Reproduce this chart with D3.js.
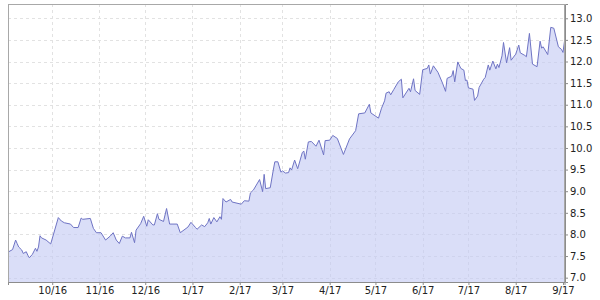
<!DOCTYPE html>
<html>
<head>
<meta charset="utf-8">
<script src="https://cdn.jsdelivr.net/npm/d3@7"></script>
<style>
  html, body { margin: 0; padding: 0; background: #fff; }
  svg { display: block; }
  text { font-family: "DejaVu Sans", Verdana, sans-serif; font-size: 10px; fill: #222; }
</style>
</head>
<body>
<svg id="chart" width="600" height="300"></svg>
<script>
const dates = [
"2016-09-02","2016-09-05","2016-09-07","2016-09-08","2016-09-09","2016-09-11","2016-09-12","2016-09-14","2016-09-15","2016-09-16",
"2016-09-18","2016-09-20","2016-09-21","2016-09-22","2016-09-23","2016-09-24","2016-09-27","2016-09-30","2016-10-05","2016-10-07",
"2016-10-09","2016-10-13","2016-10-15","2016-10-18","2016-10-20","2016-10-21","2016-10-26","2016-10-28","2016-10-30","2016-11-02",
"2016-11-05","2016-11-08","2016-11-10","2016-11-12","2016-11-14","2016-11-16","2016-11-18","2016-11-21","2016-11-22","2016-11-24",
"2016-11-25","2016-11-28","2016-11-30","2016-12-02","2016-12-03","2016-12-06","2016-12-07","2016-12-09","2016-12-10","2016-12-13",
"2016-12-15","2016-12-17","2016-12-22","2016-12-24","2016-12-29","2016-12-31","2017-01-03","2017-01-04","2017-01-07","2017-01-09",
"2017-01-11","2017-01-12","2017-01-13","2017-01-15","2017-01-17","2017-01-19","2017-01-20","2017-01-21","2017-01-23","2017-01-26",
"2017-01-27","2017-02-02","2017-02-04","2017-02-07","2017-02-08","2017-02-10","2017-02-14","2017-02-16","2017-02-17","2017-02-18",
"2017-02-21","2017-02-23","2017-02-24","2017-02-26","2017-02-28","2017-03-01","2017-03-03","2017-03-05","2017-03-06","2017-03-07",
"2017-03-09","2017-03-11","2017-03-14","2017-03-15","2017-03-16","2017-03-18","2017-03-20","2017-03-23","2017-03-25","2017-03-28",
"2017-03-29","2017-04-01","2017-04-03","2017-04-06","2017-04-10","2017-04-14","2017-04-18","2017-04-20","2017-04-24","2017-04-27",
"2017-04-28","2017-05-03","2017-05-05","2017-05-07","2017-05-08","2017-05-10","2017-05-11","2017-05-13","2017-05-16","2017-05-18",
"2017-05-19","2017-05-23","2017-05-24","2017-05-26","2017-05-27","2017-05-30","2017-06-01","2017-06-04","2017-06-05","2017-06-06",
"2017-06-08","2017-06-11","2017-06-14","2017-06-16","2017-06-17","2017-06-20","2017-06-21","2017-06-22","2017-06-24","2017-06-26",
"2017-06-28","2017-06-29","2017-06-30","2017-07-01","2017-07-04","2017-07-05","2017-07-07","2017-07-08","2017-07-11","2017-07-12",
"2017-07-14","2017-07-15","2017-07-17","2017-07-19","2017-07-20","2017-07-21","2017-07-23","2017-07-24","2017-07-26","2017-07-28",
"2017-07-29","2017-08-01","2017-08-03","2017-08-04","2017-08-07","2017-08-08","2017-08-10","2017-08-12","2017-08-15","2017-08-17",
"2017-08-18","2017-08-19","2017-08-22","2017-08-24","2017-08-26","2017-08-29","2017-08-31","2017-09-01","2017-09-02"
];
const values = [
7.59, 7.65, 7.87, 7.79, 7.71, 7.64, 7.56, 7.60, 7.52, 7.46,
7.54, 7.68, 7.61, 7.71, 7.97, 7.92, 7.87, 7.78, 8.39, 8.31,
8.27, 8.24, 8.16, 8.16, 8.38, 8.35, 8.37, 8.14, 8.04, 8.04,
7.87, 7.96, 8.04, 7.87, 7.79, 7.96, 7.92, 7.92, 8.05, 7.81,
8.10, 8.25, 8.42, 8.19, 8.34, 8.22, 8.22, 8.48, 8.35, 8.30,
8.60, 8.24, 8.24, 8.04, 8.17, 8.28, 8.16, 8.12, 8.22, 8.18,
8.27, 8.37, 8.24, 8.39, 8.29, 8.41, 8.35, 8.83, 8.75, 8.81,
8.75, 8.70, 8.78, 8.77, 8.96, 9.03, 9.27, 8.99, 9.39, 9.06,
9.08, 9.49, 9.68, 9.68, 9.44, 9.47, 9.42, 9.43, 9.54, 9.49,
9.72, 9.52, 9.89, 9.93, 9.74, 10.14, 10.15, 10.04, 10.18, 9.84,
10.17, 10.18, 10.29, 10.22, 9.85, 10.21, 10.40, 10.79, 10.81, 11.01,
10.81, 10.69, 10.92, 11.09, 11.27, 11.30, 11.23, 11.35, 11.53, 11.59,
11.16, 11.38, 11.30, 11.60, 11.33, 11.24, 11.81, 11.84, 11.92, 11.71,
11.90, 11.75, 11.50, 11.31, 11.61, 11.66, 11.79, 11.53, 11.99, 11.84,
11.80, 11.56, 11.57, 11.39, 11.36, 11.10, 11.20, 11.40, 11.59, 11.63,
11.92, 11.80, 12.01, 11.83, 11.94, 11.86, 12.13, 12.44, 11.97, 12.32,
12.03, 12.17, 12.38, 12.20, 12.14, 12.11, 12.65, 11.94, 11.88, 12.47,
12.31, 12.34, 12.16, 12.79, 12.77, 12.34, 12.28, 12.21, 12.47
];
const monthTicks = ["2016-10-01","2016-11-01","2016-12-01","2017-01-01","2017-02-01","2017-03-01",
                    "2017-04-01","2017-05-01","2017-06-01","2017-07-01","2017-08-01","2017-09-01"];
const monthLabels = ["10/16","11/16","12/16","1/17","2/17","3/17","4/17","5/17","6/17","7/17","8/17","9/17"];
const yTicks = [7.0, 7.5, 8.0, 8.5, 9.0, 9.5, 10.0, 10.5, 11.0, 11.5, 12.0, 12.5, 13.0];
const xDomain = ["2016-09-02", "2017-09-02"];
const yDomain = [6.9, 13.33];

(function () {
const parse = d3.utcParse("%Y-%m-%d");
const data = dates.map((d, i) => ({ date: parse(d), value: values[i] }));

const pL = 8, pR = 564.5, pT = 4, pB = 282;
const x = d3.scaleUtc().domain(xDomain.map(parse)).range([pL, pR]);
const y = d3.scaleLinear().domain(yDomain).range([pB, pT]);

const svg = d3.select("#chart");
const snap = v => Math.round(v) + 0.5;

// grid
const grid = svg.append("g").attr("stroke", "#e2e2e2").attr("stroke-dasharray", "3,3").attr("shape-rendering", "crispEdges");
grid.selectAll("line.h").data(yTicks).join("line").attr("class", "h")
  .attr("x1", pL).attr("x2", pR)
  .attr("y1", d => snap(y(d))).attr("y2", d => snap(y(d)));
grid.selectAll("line.v").data(monthTicks.slice(0, -1)).join("line").attr("class", "v")
  .attr("y1", pT).attr("y2", pB)
  .attr("x1", d => snap(x(parse(d)))).attr("x2", d => snap(x(parse(d))));

// area + line
const area = d3.area().x(d => x(d.date)).y0(pB).y1(d => y(d.value));
const line = d3.line().x(d => x(d.date)).y(d => y(d.value));
svg.append("path").datum(data).attr("d", area).attr("fill", "#c3caf3").attr("fill-opacity", 0.62);
svg.append("path").datum(data).attr("d", line).attr("fill", "none").attr("stroke", "#6f74c4").attr("stroke-width", 1);

// frame
svg.append("rect").attr("x", pL + 0.5).attr("y", pT + 0.5)
  .attr("width", Math.round(pR - pL) - 1).attr("height", pB - pT)
  .attr("fill", "none").attr("stroke", "#a8a8a8").attr("shape-rendering", "crispEdges");

// right axis
const yAxis = d3.axisRight(y).tickValues(yTicks).tickFormat(d3.format(".1f")).tickSize(3).tickPadding(2);
const gy = svg.append("g").attr("transform", `translate(${Math.round(pR)},0)`).call(yAxis);
gy.select(".domain").attr("stroke", "#8c8c8c");
gy.selectAll(".tick line").attr("stroke", "#8c8c8c");
gy.selectAll("text").attr("fill", "#222").style("font-size", "10px").style("font-family", "DejaVu Sans, sans-serif");

// bottom axis
const xAxis = d3.axisBottom(x).tickValues(monthTicks.map(parse))
  .tickFormat((d, i) => monthLabels[i]).tickSize(3).tickPadding(2);
const gx = svg.append("g").attr("transform", `translate(0,${pB})`).call(xAxis);
gx.select(".domain").attr("stroke", "#8c8c8c");
gx.selectAll(".tick line").attr("stroke", "#8c8c8c");
gx.selectAll("text").attr("fill", "#222").style("font-size", "10px").style("font-family", "DejaVu Sans, sans-serif");
})();
</script>
</body>
</html>
